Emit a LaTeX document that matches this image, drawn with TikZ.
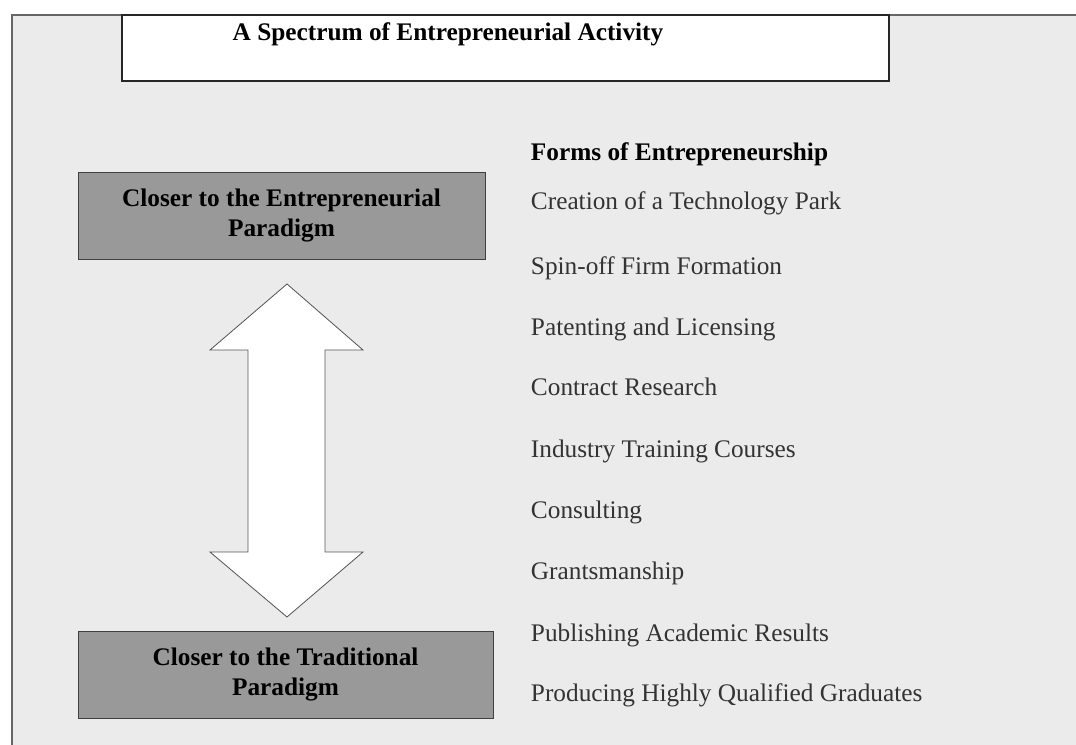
\documentclass[tikz,border=0pt]{standalone}
\usepackage{fontspec}
\setmainfont{Liberation Serif}
\usepackage{xcolor}
\usetikzlibrary{positioning}

\definecolor{bg}{HTML}{EBEBEB}
\definecolor{boxgray}{HTML}{999999}
\definecolor{itemtxt}{HTML}{333333}

\begin{document}
\begin{tikzpicture}[
  every node/.style = {font=\fontsize{18}{21.6}\selectfont},
  para/.style  = {draw=black!75, fill=boxgray, minimum height=2.175cm,
                  align=center, font=\fontsize{18}{21.6}\selectfont\bfseries},
  hd/.style    = {anchor=base west, font=\fontsize{18}{21.6}\selectfont\bfseries},
  item/.style  = {anchor=base west, text=itemtxt},
  frame/.style = {draw=black!60, line width=1pt},
]
\useasboundingbox (0,0) rectangle (26.9,-18.625);
% panel
\fill[bg] (0.3,-0.375) rectangle (26.9,-18.625);
\draw[frame] (0.3,-18.625) -- (0.3,-0.375) -- (26.9,-0.375);
% title
\draw[black!85, line width=1.1pt, fill=white] (3.05,-0.375) rectangle (22.225,-2.025);
\node[font=\fontsize{18}{21.6}\selectfont\bfseries] (title) at (11.2,-0.87) {A Spectrum of Entrepreneurial Activity};
% the two ends
\node[para, minimum width=10.175cm] (entr) at (7.0375,-5.3875) {Closer to the Entrepreneurial\\Paradigm};
\node[para, minimum width=10.375cm] (trad) at (7.1375,-16.8625) {Closer to the Traditional\\Paradigm};
% double arrow
\draw[black!65, fill=white, line width=0.6pt]
  (7.175,-7.1) -- (9.075,-8.75) -- (8.125,-8.75) -- (8.125,-13.8) -- (9.075,-13.8)
  -- (7.175,-15.425) -- (5.25,-13.8) -- (6.2,-13.8) -- (6.2,-8.75) -- (5.25,-8.75) -- cycle;
% forms
\node[hd]   (forms) at (13.15,-4.02)  {Forms of Entrepreneurship};
\node[item] (park)  at (13.15,-5.25)  {Creation of a Technology Park};
\node[item] (spin)  at (13.15,-6.875) {Spin-off Firm Formation};
\node[item] (pat)   at (13.15,-8.375) {Patenting and Licensing};
\node[item] (contr) at (13.15,-9.875) {Contract Research};
\node[item] (train) at (13.15,-11.425) {Industry Training Courses};
\node[item] (cons)  at (13.15,-12.95) {Consulting};
\node[item] (grant) at (13.15,-14.475) {Grantsmanship};
\node[item] (publ)  at (13.15,-16.025) {Publishing Academic Results};
\node[item] (grad)  at (13.15,-17.525) {Producing Highly Qualified Graduates};
\end{tikzpicture}
\end{document}
